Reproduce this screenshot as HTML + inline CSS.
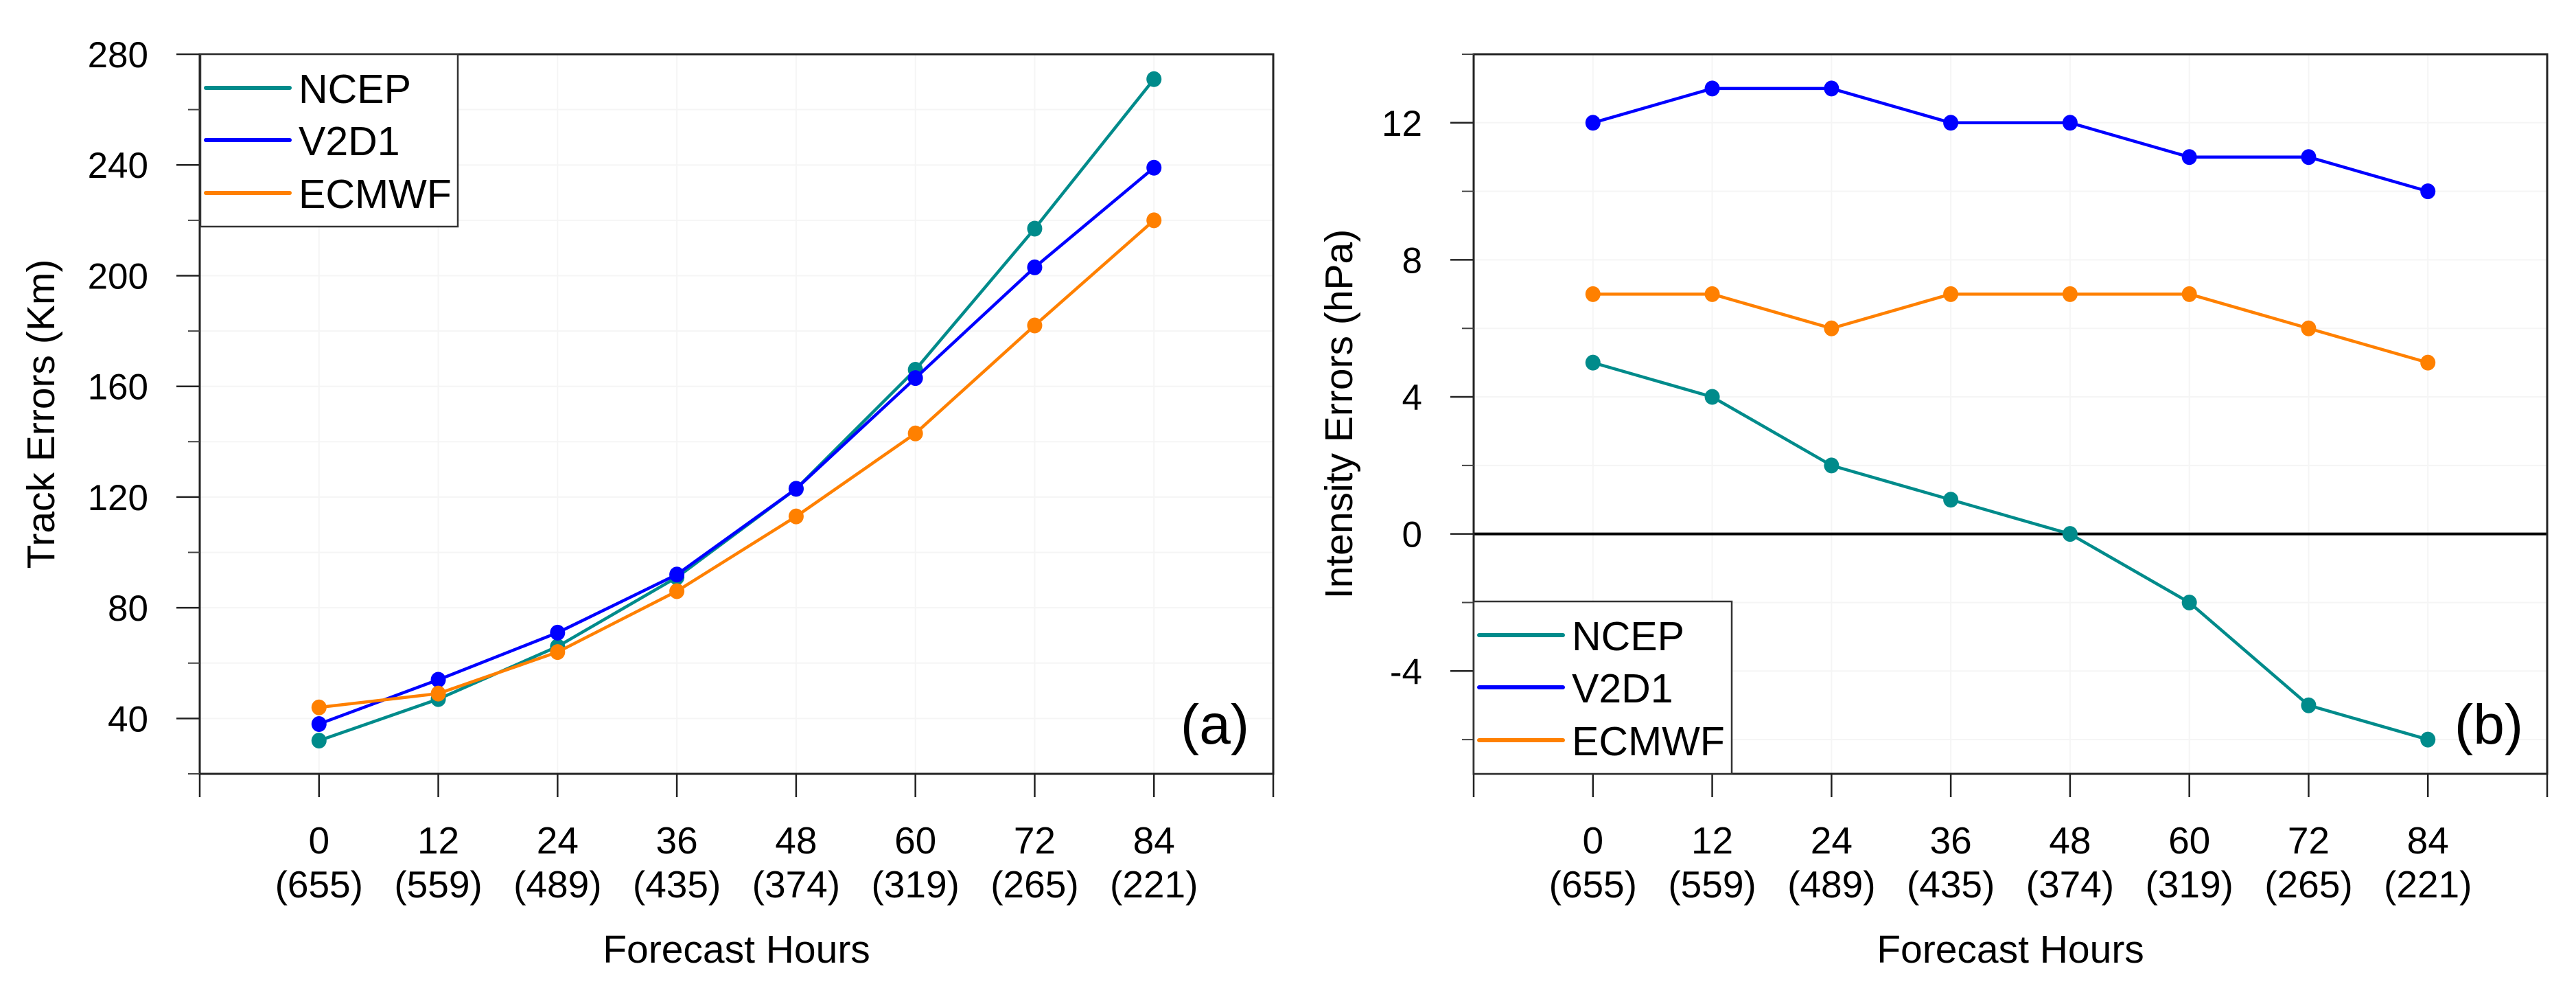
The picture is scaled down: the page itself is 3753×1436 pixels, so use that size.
<!DOCTYPE html>
<html><head><meta charset="utf-8"><style>
html,body{margin:0;padding:0;background:#fff;}
svg{display:block;font-family:"Liberation Sans",sans-serif;}
</style></head><body>
<svg id="fig" width="3753" height="1436" viewBox="0 0 3753 1436" xmlns="http://www.w3.org/2000/svg"></svg>
<script>
const hours = [0,12,24,36,48,60,72,84];
const counts = ["(655)","(559)","(489)","(435)","(374)","(319)","(265)","(221)"];
const trackNCEP = [32,47,66,91,123,166,217,271];
const trackV2D1 = [38,54,71,92,123,163,203,239];
const trackECMWF = [44,49,64,86,113,143,182,220];
const intNCEP = [5,4,2,1,0,-2,-5,-6];
const intV2D1 = [12,13,13,12,12,11,11,10];
const intECMWF = [7,7,6,7,7,7,6,5];
const trackMajor = [40,80,120,160,200,240,280];
const trackMinor = [20,60,100,140,180,220,260];
const intMajor = [-4,0,4,8,12];
const intMinor = [-6,-2,2,6,10,14];
const seriesNames = ["NCEP","V2D1","ECMWF"];
const seriesColors = ["#008b8b","#0000ff","#ff8000"];

const NS="http://www.w3.org/2000/svg";
const svg=document.getElementById('fig');
function el(tag,attrs,parent,txt){const e=document.createElementNS(NS,tag);for(const k in attrs)e.setAttribute(k,attrs[k]);if(txt!==undefined)e.textContent=txt;(parent||svg).appendChild(e);return e;}

function panel(cfg){
  const g=el('g',{});
  
  
  const L=cfg.left,R=cfg.right,T=79,B=1127;
  const xs=v=>L+(v+12)/108*(R-L);
  const ys=v=>B-(v-cfg.ymin)/(cfg.ymax-cfg.ymin)*(B-T);
  const xt=[-12].concat(hours).concat([96]);
  xt.forEach(h=>{const l=el('line',{x1:xs(h),x2:xs(h),y1:T,y2:B,stroke:'#f5f5f5','stroke-width':2},g);
    });
  cfg.major.concat(cfg.minor).forEach(v=>{const l=el('line',{x1:L,x2:R,y1:ys(v),y2:ys(v),stroke:'#f5f5f5','stroke-width':2},g);
    });
  if(cfg.zero){const z=el('line',{x1:L,x2:R,y1:ys(0),y2:ys(0),stroke:'#000','stroke-width':4},g);
    }
  const fr=el('rect',{x:L,y:T,width:R-L,height:B-T,fill:'none',stroke:'#222','stroke-width':3},g);
  
  cfg.major.forEach(v=>{const t=el('line',{x1:L-34,x2:L,y1:ys(v),y2:ys(v),stroke:'#222','stroke-width':2.5},g);
    
    const lb=el('text',{x:L-75,y:ys(v)+19,'font-size':53,'text-anchor':'end'},g,String(v));
    });
  cfg.minor.forEach(v=>{const t=el('line',{x1:L-17,x2:L,y1:ys(v),y2:ys(v),stroke:'#444','stroke-width':2},g);
    });
  xt.forEach(h=>{const t=el('line',{x1:xs(h),x2:xs(h),y1:B,y2:B+34,stroke:'#222','stroke-width':2.5},g);
    });
  hours.forEach((h,i)=>{
    const a=el('text',{x:xs(h),y:1243,'font-size':55,'text-anchor':'middle'},g,String(h));
    
    const b=el('text',{x:xs(h),y:1307,'font-size':55,'text-anchor':'middle'},g,counts[i]);
    });
  const xtl=el('text',{x:(L+R)/2,y:1402,'font-size':57,'text-anchor':'middle'},g,'Forecast Hours');
  
  const ytl=el('text',{x:0,y:0,'font-size':57,'text-anchor':'middle',transform:`translate(${cfg.ytx},603) rotate(-90)`},g,cfg.ytitle);
  
  cfg.series.forEach((s,si)=>{
    const pts=hours.map((h,i)=>xs(h)+','+ys(s[i])).join(' ');
    const pl=el('polyline',{points:pts,fill:'none',stroke:seriesColors[si],'stroke-width':4.5,'stroke-linejoin':'round'},g);
    
    
    hours.forEach((h,i)=>{const c=el('ellipse',{cx:xs(h),cy:ys(s[i]),rx:11,ry:11.5,fill:seriesColors[si]},g);
      
      });
  });
  const lg=el('g',{},g);
  
  
  const lb=el('rect',{x:cfg.leg.x,y:cfg.leg.y,width:cfg.leg.w,height:cfg.leg.h,fill:'#fff',stroke:'#333','stroke-width':2.5},lg);
  
  seriesNames.forEach((n,i)=>{
    const ly=cfg.leg.rows[i];
    const ln=el('line',{x1:cfg.leg.x+8,x2:cfg.leg.x+130,y1:ly,y2:ly,stroke:seriesColors[i],'stroke-width':6,'stroke-linecap':'round'},lg);
    
    const tx=el('text',{x:cfg.leg.x+143,y:ly+22,'font-size':59},lg,n);
    
  });
  const pl=el('text',{x:cfg.lab.x,y:cfg.lab.y,'font-size':82,'text-anchor':'middle'},g,cfg.lab.t);
  
}

panel({name:'track-errors-panel',left:291,right:1855,ymin:20,ymax:280,major:trackMajor,minor:trackMinor,
  ytitle:'Track Errors (Km)',ytx:79,series:[trackNCEP,trackV2D1,trackECMWF],zero:false,
  leg:{x:292,y:79,w:375,h:251,rows:[128,204,281]},lab:{x:1770,y:1083,t:'(a)'}});
panel({name:'intensity-errors-panel',left:2147,right:3711,ymin:-7,ymax:14,major:intMajor,minor:intMinor,
  ytitle:'Intensity Errors (hPa)',ytx:1970,series:[intNCEP,intV2D1,intECMWF],zero:true,
  leg:{x:2147,y:876,w:376,h:251,rows:[925,1001,1078]},lab:{x:3626,y:1083,t:'(b)'}});
</script>
</body></html>
